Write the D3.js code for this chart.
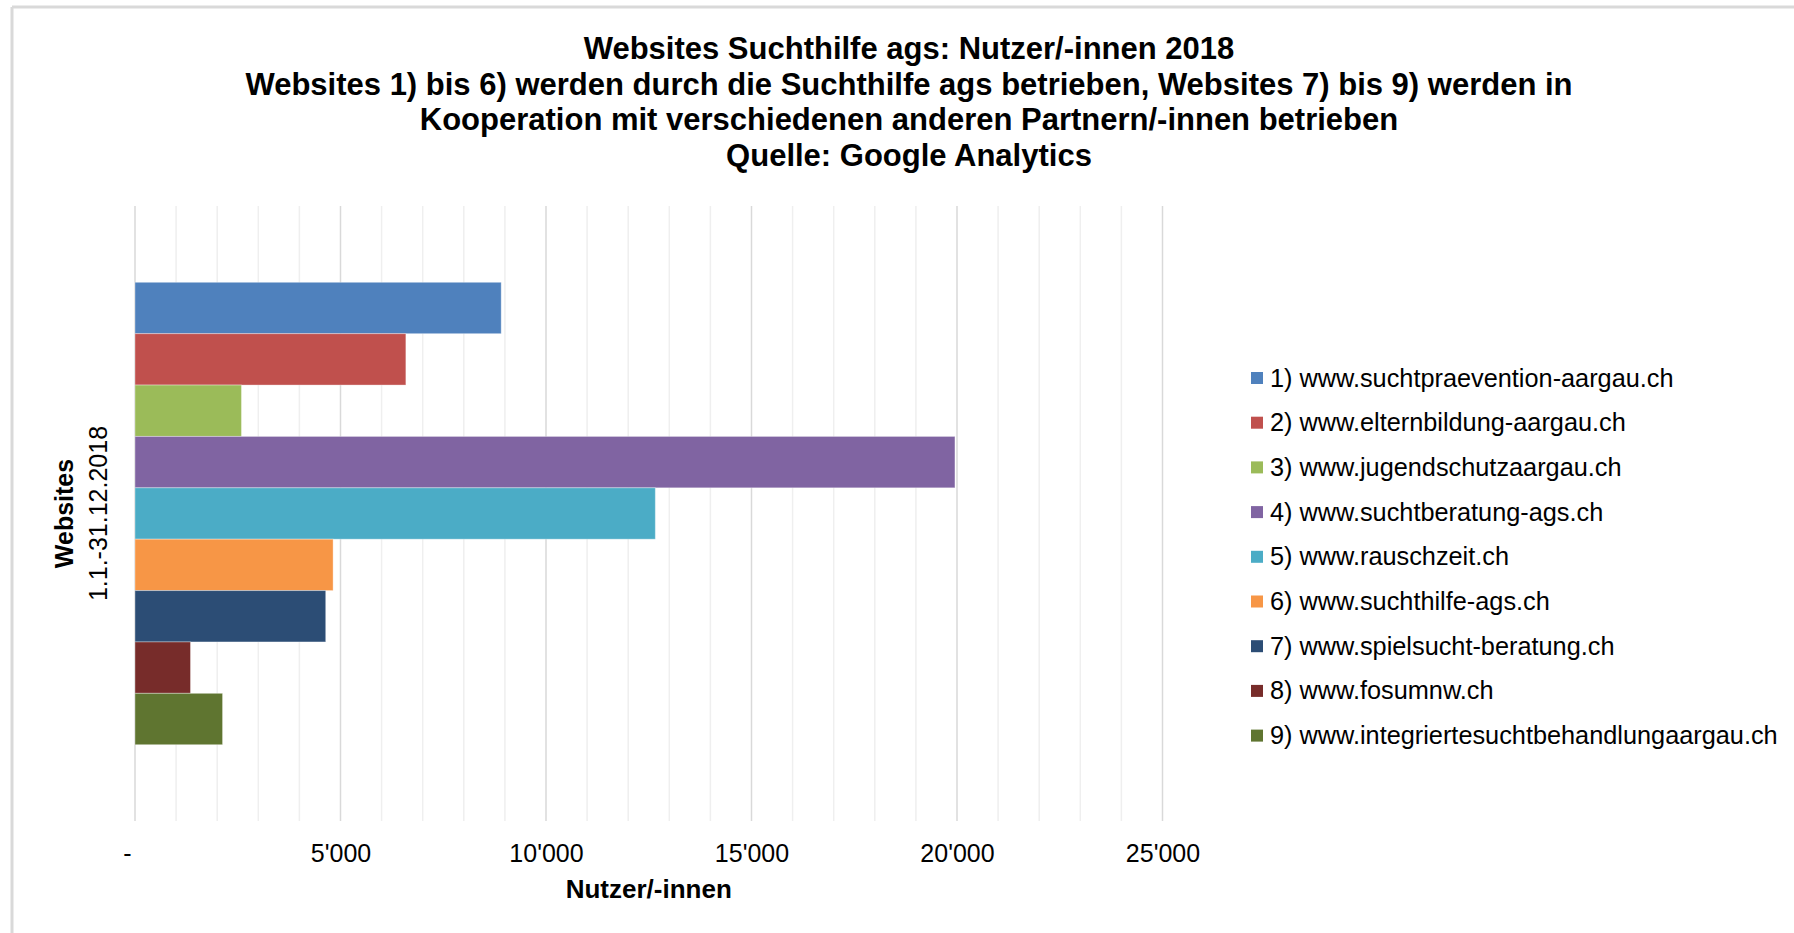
<!DOCTYPE html>
<html>
<head>
<meta charset="utf-8">
<script src="https://cdn.jsdelivr.net/npm/d3@7"></script>
<style>
  body { margin: 0; background: #fff; }
  svg text { font-family: "Liberation Sans", Arial, sans-serif; fill: #000; }
</style>
</head>
<body>
<svg id="chart" width="1794" height="933"></svg>
<script>
// Data
const titleLines = [
    "Websites Suchthilfe ags: Nutzer/-innen 2018",
    "Websites 1) bis 6) werden durch die Suchthilfe ags betrieben, Websites 7) bis 9) werden in",
    "Kooperation mit verschiedenen anderen Partnern/-innen betrieben",
    "Quelle: Google Analytics"
];
const categories = ["1.1.-31.12.2018"];
const sites = [
    "1) www.suchtpraevention-aargau.ch",
    "2) www.elternbildung-aargau.ch",
    "3) www.jugendschutzaargau.ch",
    "4) www.suchtberatung-ags.ch",
    "5) www.rauschzeit.ch",
    "6) www.suchthilfe-ags.ch",
    "7) www.spielsucht-beratung.ch",
    "8) www.fosumnw.ch",
    "9) www.integriertesuchtbehandlungaargau.ch"
];
const users = [8910, 6590, 2590, 19950, 12660, 4820, 4640, 1350, 2130];
const siteColors = ["#4F81BD", "#C0504D", "#9BBB59", "#8064A2", "#4BACC6",
                    "#F79646", "#2C4D75", "#772C2A", "#5F7530"];
const xTicks = [0, 5000, 10000, 15000, 20000, 25000];
const xMinorTicks = d3.range(0, 25001, 1000);

const svg = d3.select("#chart");

// outer frame (only top and left edges are visible)
svg.append("line").attr("x1", 12).attr("x2", 1794).attr("y1", 7).attr("y2", 7)
    .attr("stroke", "#d9d9d9").attr("stroke-width", 3);
svg.append("line").attr("x1", 12).attr("x2", 12).attr("y1", 7).attr("y2", 933)
    .attr("stroke", "#d9d9d9").attr("stroke-width", 3);

// title
svg.append("g").selectAll("text")
    .data(titleLines)
    .enter()
    .append("text")
    .attr("x", 909)
    .attr("y", (d, i) => 59 + i * 35.5)
    .attr("text-anchor", "middle")
    .style("font-size", "31px")
    .style("font-weight", "bold")
    .text(d => d);

const plot = { left: 135, right: 1162.5, top: 206, bottom: 821 };

const x = d3.scaleLinear()
    .domain([0, 25000])
    .range([plot.left, plot.right]);

const y0 = d3.scaleBand()
    .domain(categories)
    .range([plot.top, plot.bottom])
    .paddingOuter(0.165);

const y1 = d3.scaleBand()
    .domain(sites)
    .range([0, y0.bandwidth()]);

// grid lines
svg.append("g").selectAll("line")
    .data(xMinorTicks)
    .enter()
    .append("line")
    .attr("x1", d => x(d))
    .attr("x2", d => x(d))
    .attr("y1", plot.top)
    .attr("y2", plot.bottom)
    .attr("stroke", d => d % 5000 === 0 ? "#d9d9d9" : "#efefef")
    .attr("stroke-width", 1.5);

// x axis labels
const xAxis = svg.append("g")
    .attr("transform", `translate(0,${plot.bottom})`)
    .call(d3.axisBottom(x)
        .tickValues(xTicks)
        .tickSize(0)
        .tickPadding(41)
        .tickFormat(d => d === 0 ? "-" : d3.format(",")(d).replace(/,/g, "'")));
xAxis.select(".domain").remove();
xAxis.selectAll("text")
    .style("font-size", "25px")
    .attr("dy", 0)
    .attr("dx", d => d === 0 ? -8 : 0);

// bars
svg.append("g").selectAll("g")
    .data(categories)
    .enter()
    .append("g")
    .attr("transform", d => `translate(0,${y0(d)})`)
    .selectAll("rect")
    .data(() => sites.map((s, i) => ({ site: s, value: users[i], color: siteColors[i] })))
    .enter()
    .append("rect")
    .attr("x", x(0))
    .attr("y", d => y1(d.site))
    .attr("width", d => x(d.value) - x(0))
    .attr("height", y1.bandwidth())
    .attr("fill", d => d.color)
    .attr("stroke", "rgba(255,255,255,0.35)")
    .attr("stroke-width", 1);

// axis titles
svg.append("text")
    .attr("x", (plot.left + plot.right) / 2)
    .attr("y", 898)
    .attr("text-anchor", "middle")
    .style("font-size", "26px")
    .style("font-weight", "bold")
    .text("Nutzer/-innen");

svg.append("text")
    .attr("transform", `translate(73,${(plot.top + plot.bottom) / 2}) rotate(-90)`)
    .attr("text-anchor", "middle")
    .style("font-size", "25px")
    .style("font-weight", "bold")
    .text("Websites");

svg.append("g").selectAll("text")
    .data(categories)
    .enter()
    .append("text")
    .attr("transform", d => `translate(107,${y0(d) + y0.bandwidth() / 2}) rotate(-90)`)
    .attr("text-anchor", "middle")
    .style("font-size", "25px")
    .text(d => d);

// legend
const legend = svg.append("g")
    .selectAll("g")
    .data(sites)
    .enter()
    .append("g")
    .attr("transform", (d, i) => `translate(1251,${378 + i * 44.7})`);

legend.append("rect")
    .attr("x", 0)
    .attr("y", -6)
    .attr("width", 12)
    .attr("height", 12)
    .attr("fill", (d, i) => siteColors[i]);

legend.append("text")
    .attr("x", 19)
    .attr("y", 8.5)
    .style("font-size", "25.3px")
    .text(d => d);
</script>
</body>
</html>
